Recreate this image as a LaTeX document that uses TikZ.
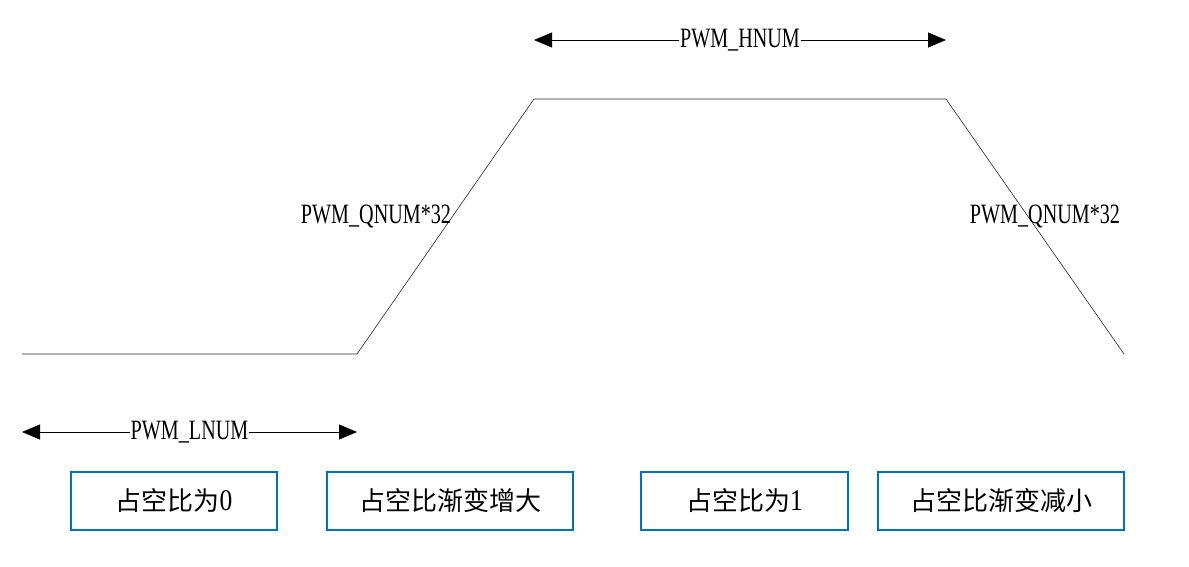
\documentclass[tikz,border=0pt]{standalone}
\usepackage{fontspec}
\setmainfont[FakeStretch=0.72]{Liberation Serif}
\newfontfamily\cjk{Noto Sans CJK SC}
\newfontfamily\digfont[FakeStretch=0.85]{Liberation Serif}
\usetikzlibrary{arrows.meta}
\definecolor{boxblue}{RGB}{0,112,192}
\begin{document}
\begin{tikzpicture}[x=1pt,y=-1pt,
  wave/.style={line width=0.6pt,black!85},
  dim/.style={line width=0.8pt,{Triangle[length=18pt,width=15pt]}-{Triangle[length=18pt,width=15pt]}},
  lbl/.style={font=\fontsize{28}{30}\selectfont,inner sep=1pt,fill=white},
  qlbl/.style={font=\fontsize{28}{30}\selectfont,inner sep=0pt},
  stbox/.style={draw=boxblue,line width=2pt,minimum height=58pt,font=\fontsize{26}{28}\selectfont}]
\useasboundingbox (0,0) rectangle (1189,567);
% waveform
\coordinate (w0) at (22,354);
\coordinate (w1) at (357,354);
\coordinate (w2) at (534,99);
\coordinate (w3) at (946,99);
\coordinate (w4) at (1124,354);
\draw[wave] (w0) -- (w1) -- (w2) -- (w3) -- (w4);
% dimension arrows
\coordinate (h0) at (534,40);
\coordinate (h1) at (946,40);
\draw[dim] (h0) -- node[lbl] (hl) {PWM\_HNUM} (h1);
\coordinate (l0) at (22,432);
\coordinate (l1) at (357,432);
\draw[dim] (l0) -- node[lbl] (ll) {PWM\_LNUM} (l1);
% slope labels
\node[qlbl] (q1) at (376,216) {PWM\_QNUM*32};
\node[qlbl] (q2) at (1045,216) {PWM\_QNUM*32};
% state boxes
\node[stbox,minimum width=206pt] (b1) at (174,501) {{\cjk 占空比为}{\digfont\fontsize{30}{30}\selectfont 0}};
\node[stbox,minimum width=246pt] (b2) at (450,501) {\cjk 占空比渐变增大};
\node[stbox,minimum width=207pt] (b3) at (744.5,501) {{\cjk 占空比为}{\digfont\fontsize{30}{30}\selectfont 1}};
\node[stbox,minimum width=246pt] (b4) at (1001,501) {\cjk 占空比渐变减小};
\end{tikzpicture}
\end{document}
